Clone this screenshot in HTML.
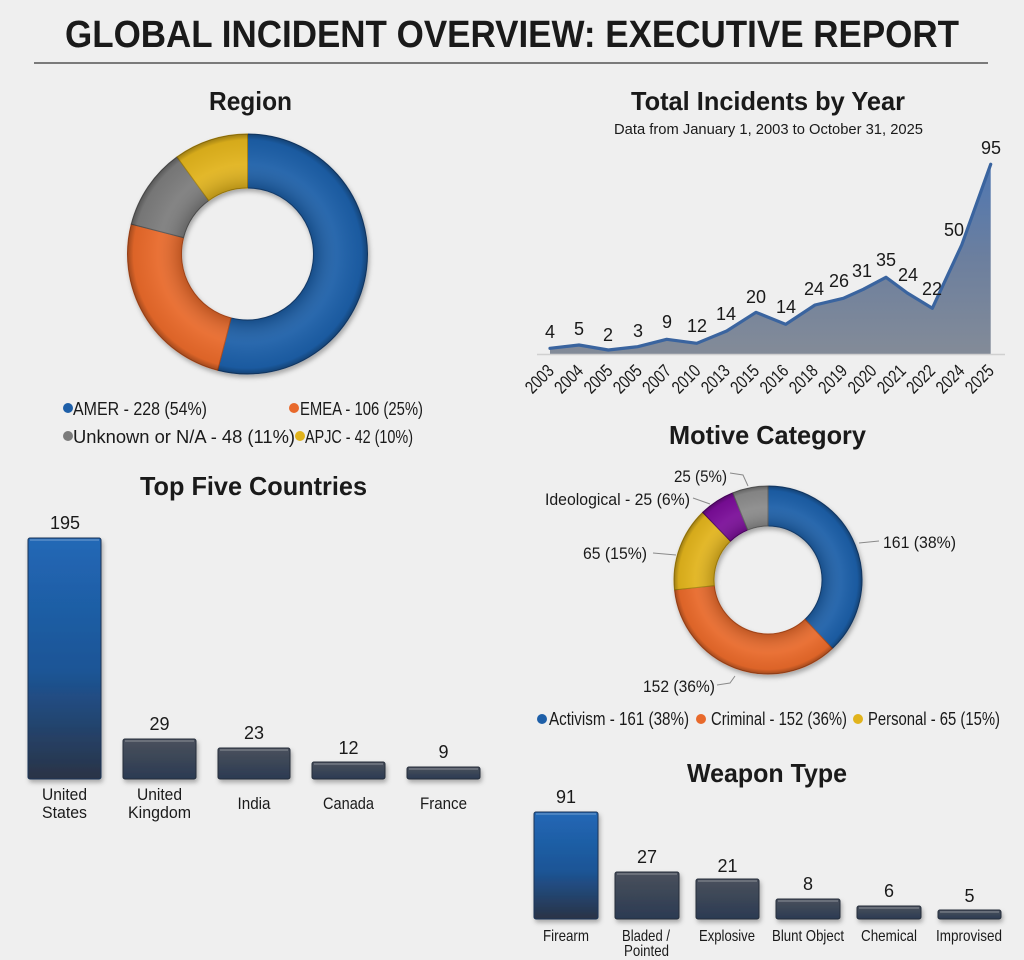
<!DOCTYPE html>
<html>
<head>
<meta charset="utf-8">
<style>
html,body{margin:0;padding:0;background:#efefef;}
svg{display:block;}
text{font-family:"Liberation Sans Narrow","Liberation Sans",sans-serif;fill:#1a1a1a;}
.t{font-weight:bold;}
</style>
</head>
<body>
<svg width="1024" height="960" viewBox="0 0 1024 960" xmlns="http://www.w3.org/2000/svg">
<defs>
  <filter id="sh" x="-20%" y="-20%" width="140%" height="140%">
    <feDropShadow dx="1.5" dy="3" stdDeviation="2.5" flood-color="#000" flood-opacity="0.3"/>
  </filter>
  <linearGradient id="area" x1="0" y1="164" x2="0" y2="354" gradientUnits="userSpaceOnUse">
    <stop offset="0" stop-color="#4f77b2"/>
    <stop offset="0.5" stop-color="#6c7f9e"/>
    <stop offset="1" stop-color="#838b98"/>
  </linearGradient>
  <linearGradient id="blueBar" x1="0" y1="0" x2="0" y2="1">
    <stop offset="0" stop-color="#2168b6"/>
    <stop offset="0.55" stop-color="#1d5596"/>
    <stop offset="1" stop-color="#2a3346"/>
  </linearGradient>
  <linearGradient id="darkBar" x1="0" y1="0" x2="0" y2="1">
    <stop offset="0" stop-color="#4a515c"/>
    <stop offset="1" stop-color="#2b3a52"/>
  </linearGradient>
  <radialGradient id="ringShadeA" cx="247.5" cy="254" r="120" gradientUnits="userSpaceOnUse">
    <stop offset="0.55" stop-color="#000" stop-opacity="0.18"/>
    <stop offset="0.75" stop-color="#fff" stop-opacity="0.06"/>
    <stop offset="0.95" stop-color="#000" stop-opacity="0.05"/>
    <stop offset="1" stop-color="#000" stop-opacity="0.3"/>
  </radialGradient>
  <radialGradient id="ringShadeB" cx="768" cy="580" r="94" gradientUnits="userSpaceOnUse">
    <stop offset="0.57" stop-color="#000" stop-opacity="0.18"/>
    <stop offset="0.78" stop-color="#fff" stop-opacity="0.06"/>
    <stop offset="0.95" stop-color="#000" stop-opacity="0.05"/>
    <stop offset="1" stop-color="#000" stop-opacity="0.3"/>
  </radialGradient>
</defs>

<rect x="0" y="0" width="1024" height="960" fill="#efefef"/>

<!-- Main title -->
<text class="t" x="512" y="47" font-size="38" text-anchor="middle" textLength="894" lengthAdjust="spacingAndGlyphs">GLOBAL INCIDENT OVERVIEW: EXECUTIVE REPORT</text>
<line x1="34" y1="63" x2="988" y2="63" stroke="#7a7a7a" stroke-width="2"/>

<!-- Region -->
<text class="t" x="250.5" y="110" font-size="26" text-anchor="middle" textLength="83" lengthAdjust="spacingAndGlyphs">Region</text>
<g filter="url(#sh)">
  <path d="M247.5,134 A120,120 0 1,1 217.66,370.23 L231.09,317.93 A66,66 0 1,0 247.5,188 Z" fill="#1e5fa8" stroke="#173f70" stroke-width="1"/>
  <path d="M217.66,370.23 A120,120 0 0,1 131.27,224.16 L183.57,237.59 A66,66 0 0,0 231.09,317.93 Z" fill="#e8692b" stroke="#b04c1c" stroke-width="1"/>
  <path d="M131.27,224.16 A120,120 0 0,1 176.97,156.92 L208.71,200.61 A66,66 0 0,0 183.57,237.59 Z" fill="#7b7b7b" stroke="#555" stroke-width="1"/>
  <path d="M176.97,156.92 A120,120 0 0,1 247.5,134 L247.5,188 A66,66 0 0,0 208.71,200.61 Z" fill="#e1b31c" stroke="#a8830f" stroke-width="1"/>
</g>
<path d="M247.5,134 A120,120 0 1,1 247.5,374 A120,120 0 1,1 247.5,134 Z M247.5,188 A66,66 0 1,0 247.5,320 A66,66 0 1,0 247.5,188 Z" fill="url(#ringShadeA)" fill-rule="evenodd"/>

<circle cx="68" cy="408" r="5" fill="#1e5fa8"/>
<text x="73" y="415" font-size="18" textLength="134" lengthAdjust="spacingAndGlyphs">AMER - 228 (54%)</text>
<circle cx="294" cy="408" r="5" fill="#e8692b"/>
<text x="300" y="415" font-size="18" textLength="123" lengthAdjust="spacingAndGlyphs">EMEA - 106 (25%)</text>
<circle cx="68" cy="436" r="5" fill="#7b7b7b"/>
<text x="73" y="443" font-size="18" textLength="222" lengthAdjust="spacingAndGlyphs">Unknown or N/A - 48 (11%)</text>
<circle cx="300" cy="436" r="5" fill="#e1b31c"/>
<text x="305" y="443" font-size="18" textLength="108" lengthAdjust="spacingAndGlyphs">APJC - 42 (10%)</text>

<!-- Total Incidents by Year -->
<text class="t" x="768" y="110" font-size="26" text-anchor="middle" textLength="274" lengthAdjust="spacingAndGlyphs">Total Incidents by Year</text>
<text x="768.5" y="134" font-size="15" text-anchor="middle" textLength="309" lengthAdjust="spacingAndGlyphs">Data from January 1, 2003 to October 31, 2025</text>

<polygon points="550,354 550,348.3 579,345 608.3,350 637.7,346.7 666.7,339.3 696.7,343.3 726.7,331 756,312.3 785.7,324.3 815,305 843.3,298.3 863.3,289.3 886,277.3 907.3,293 932.3,308.3 961.7,245 990.7,164.3 990.7,354" fill="url(#area)"/>
<line x1="537" y1="354.5" x2="1005" y2="354.5" stroke="#d0d0d0" stroke-width="1.5"/>
<polyline points="550,348.3 579,345 608.3,350 637.7,346.7 666.7,339.3 696.7,343.3 726.7,331 756,312.3 785.7,324.3 815,305 843.3,298.3 863.3,289.3 886,277.3 907.3,293 932.3,308.3 961.7,245 990.7,164.3" fill="none" stroke="#3a649f" stroke-width="3.2" stroke-linejoin="round" stroke-linecap="round"/>

<g font-size="18" text-anchor="middle">
  <text x="550" y="338">4</text>
  <text x="579" y="335">5</text>
  <text x="608" y="341">2</text>
  <text x="638" y="337">3</text>
  <text x="667" y="328">9</text>
  <text x="697" y="332">12</text>
  <text x="726" y="320">14</text>
  <text x="756" y="303">20</text>
  <text x="786" y="313">14</text>
  <text x="814" y="295">24</text>
  <text x="839" y="287">26</text>
  <text x="862" y="277">31</text>
  <text x="886" y="266">35</text>
  <text x="908" y="281">24</text>
  <text x="932" y="295">22</text>
  <text x="954" y="236">50</text>
  <text x="991" y="154">95</text>
</g>

<g font-size="18" text-anchor="end">
  <text transform="translate(555,372) rotate(-45)" textLength="32" lengthAdjust="spacingAndGlyphs">2003</text>
  <text transform="translate(584.3,372) rotate(-45)" textLength="32" lengthAdjust="spacingAndGlyphs">2004</text>
  <text transform="translate(613.7,372) rotate(-45)" textLength="32" lengthAdjust="spacingAndGlyphs">2005</text>
  <text transform="translate(643,372) rotate(-45)" textLength="32" lengthAdjust="spacingAndGlyphs">2005</text>
  <text transform="translate(672.3,372) rotate(-45)" textLength="32" lengthAdjust="spacingAndGlyphs">2007</text>
  <text transform="translate(701.7,372) rotate(-45)" textLength="32" lengthAdjust="spacingAndGlyphs">2010</text>
  <text transform="translate(731,372) rotate(-45)" textLength="32" lengthAdjust="spacingAndGlyphs">2013</text>
  <text transform="translate(760.3,372) rotate(-45)" textLength="32" lengthAdjust="spacingAndGlyphs">2015</text>
  <text transform="translate(789.7,372) rotate(-45)" textLength="32" lengthAdjust="spacingAndGlyphs">2016</text>
  <text transform="translate(819,372) rotate(-45)" textLength="32" lengthAdjust="spacingAndGlyphs">2018</text>
  <text transform="translate(848.3,372) rotate(-45)" textLength="32" lengthAdjust="spacingAndGlyphs">2019</text>
  <text transform="translate(877.7,372) rotate(-45)" textLength="32" lengthAdjust="spacingAndGlyphs">2020</text>
  <text transform="translate(907,372) rotate(-45)" textLength="32" lengthAdjust="spacingAndGlyphs">2021</text>
  <text transform="translate(936.3,372) rotate(-45)" textLength="32" lengthAdjust="spacingAndGlyphs">2022</text>
  <text transform="translate(965.7,372) rotate(-45)" textLength="32" lengthAdjust="spacingAndGlyphs">2024</text>
  <text transform="translate(995,372) rotate(-45)" textLength="32" lengthAdjust="spacingAndGlyphs">2025</text>
</g>

<!-- Motive Category -->
<text class="t" x="767.5" y="444" font-size="26" text-anchor="middle" textLength="197" lengthAdjust="spacingAndGlyphs">Motive Category</text>
<g filter="url(#sh)">
  <path d="M768,486 A94,94 0 0,1 832.34,648.53 L804.96,619.37 A54,54 0 0,0 768,526 Z" fill="#1e5fa8" stroke="#173f70" stroke-width="1"/>
  <path d="M832.34,648.53 A94,94 0 0,1 674.52,589.82 L714.30,585.64 A54,54 0 0,0 804.96,619.37 Z" fill="#e8692b" stroke="#b04c1c" stroke-width="1"/>
  <path d="M674.52,589.82 A94,94 0 0,1 702.70,512.39 L730.49,541.16 A54,54 0 0,0 714.30,585.64 Z" fill="#e1b31c" stroke="#a8830f" stroke-width="1"/>
  <path d="M702.70,512.39 A94,94 0 0,1 732.79,492.84 L747.77,529.93 A54,54 0 0,0 730.49,541.16 Z" fill="#7a0e98" stroke="#4f0666" stroke-width="1"/>
  <path d="M732.79,492.84 A94,94 0 0,1 768,486 L768,526 A54,54 0 0,0 747.77,529.93 Z" fill="#8a8a8a" stroke="#606060" stroke-width="1"/>
</g>
<path d="M768,486 A94,94 0 1,1 768,674 A94,94 0 1,1 768,486 Z M768,526 A54,54 0 1,0 768,634 A54,54 0 1,0 768,526 Z" fill="url(#ringShadeB)" fill-rule="evenodd"/>

<g stroke="#8a8a8a" stroke-width="1" fill="none">
  <polyline points="730,473 743,475 748,486"/>
  <polyline points="693,498 710,504"/>
  <polyline points="653,553 676,555"/>
  <polyline points="859,543 879,541"/>
  <polyline points="717,685 730,683 735,676"/>
</g>
<g font-size="17">
  <text x="674" y="482" textLength="53" lengthAdjust="spacingAndGlyphs">25 (5%)</text>
  <text x="545" y="505" textLength="145" lengthAdjust="spacingAndGlyphs">Ideological - 25 (6%)</text>
  <text x="583" y="559" textLength="64" lengthAdjust="spacingAndGlyphs">65 (15%)</text>
  <text x="883" y="548" textLength="73" lengthAdjust="spacingAndGlyphs">161 (38%)</text>
  <text x="643" y="692" textLength="72" lengthAdjust="spacingAndGlyphs">152 (36%)</text>
</g>

<circle cx="542" cy="719" r="5" fill="#1e5fa8"/>
<text x="549" y="725" font-size="18" textLength="140" lengthAdjust="spacingAndGlyphs">Activism - 161 (38%)</text>
<circle cx="701" cy="719" r="5" fill="#e8692b"/>
<text x="711" y="725" font-size="18" textLength="136" lengthAdjust="spacingAndGlyphs">Criminal - 152 (36%)</text>
<circle cx="858" cy="719" r="5" fill="#e1b31c"/>
<text x="868" y="725" font-size="18" textLength="132" lengthAdjust="spacingAndGlyphs">Personal - 65 (15%)</text>

<!-- Top Five Countries -->
<text class="t" x="253.5" y="495" font-size="26" text-anchor="middle" textLength="227" lengthAdjust="spacingAndGlyphs">Top Five Countries</text>
<g filter="url(#sh)">
  <rect x="28" y="538" width="73" height="241" rx="2" fill="url(#blueBar)" stroke="#1a3558" stroke-width="1"/>
  <rect x="123" y="739" width="73" height="40" rx="2" fill="url(#darkBar)" stroke="#252d3a" stroke-width="1"/>
  <rect x="218" y="748" width="72" height="31" rx="2" fill="url(#darkBar)" stroke="#252d3a" stroke-width="1"/>
  <rect x="312" y="762" width="73" height="17" rx="2" fill="url(#darkBar)" stroke="#252d3a" stroke-width="1"/>
  <rect x="407" y="767" width="73" height="12" rx="2" fill="url(#darkBar)" stroke="#252d3a" stroke-width="1"/>
</g>
<g stroke="#ffffff" stroke-opacity="0.3" stroke-width="1.2">
  <line x1="30" y1="540" x2="99" y2="540"/>
  <line x1="125" y1="741" x2="194" y2="741"/>
  <line x1="220" y1="750" x2="288" y2="750"/>
  <line x1="314" y1="764" x2="383" y2="764"/>
  <line x1="409" y1="769" x2="478" y2="769"/>
</g>
<g font-size="18" text-anchor="middle">
  <text x="65" y="529">195</text>
  <text x="159.5" y="730">29</text>
  <text x="254" y="739">23</text>
  <text x="348.5" y="754">12</text>
  <text x="443.5" y="758">9</text>
</g>
<g font-size="17" text-anchor="middle">
  <text x="64.5" y="800" textLength="45" lengthAdjust="spacingAndGlyphs">United</text>
  <text x="64.5" y="818" textLength="45" lengthAdjust="spacingAndGlyphs">States</text>
  <text x="159.5" y="800" textLength="45" lengthAdjust="spacingAndGlyphs">United</text>
  <text x="159.5" y="818" textLength="63" lengthAdjust="spacingAndGlyphs">Kingdom</text>
  <text x="254" y="809" textLength="33" lengthAdjust="spacingAndGlyphs">India</text>
  <text x="348.5" y="809" textLength="51" lengthAdjust="spacingAndGlyphs">Canada</text>
  <text x="443.5" y="809" textLength="47" lengthAdjust="spacingAndGlyphs">France</text>
</g>

<!-- Weapon Type -->
<text class="t" x="767" y="782" font-size="26" text-anchor="middle" textLength="160" lengthAdjust="spacingAndGlyphs">Weapon Type</text>
<g filter="url(#sh)">
  <rect x="534" y="812" width="64" height="107" rx="2" fill="url(#blueBar)" stroke="#1a3558" stroke-width="1"/>
  <rect x="615" y="872" width="64" height="47" rx="2" fill="url(#darkBar)" stroke="#252d3a" stroke-width="1"/>
  <rect x="696" y="879" width="63" height="40" rx="2" fill="url(#darkBar)" stroke="#252d3a" stroke-width="1"/>
  <rect x="776" y="899" width="64" height="20" rx="2" fill="url(#darkBar)" stroke="#252d3a" stroke-width="1"/>
  <rect x="857" y="906" width="64" height="13" rx="2" fill="url(#darkBar)" stroke="#252d3a" stroke-width="1"/>
  <rect x="938" y="910" width="63" height="9" rx="2" fill="url(#darkBar)" stroke="#252d3a" stroke-width="1"/>
</g>
<g stroke="#ffffff" stroke-opacity="0.3" stroke-width="1.2">
  <line x1="536" y1="814" x2="596" y2="814"/>
  <line x1="617" y1="874" x2="677" y2="874"/>
  <line x1="698" y1="881" x2="757" y2="881"/>
  <line x1="778" y1="901" x2="838" y2="901"/>
  <line x1="859" y1="908" x2="919" y2="908"/>
  <line x1="940" y1="912" x2="999" y2="912"/>
</g>
<g font-size="18" text-anchor="middle">
  <text x="566" y="803">91</text>
  <text x="647" y="863">27</text>
  <text x="727.5" y="872">21</text>
  <text x="808" y="890">8</text>
  <text x="889" y="897">6</text>
  <text x="969.5" y="902">5</text>
</g>
<g font-size="16" text-anchor="middle">
  <text x="566" y="941" textLength="46" lengthAdjust="spacingAndGlyphs">Firearm</text>
  <text x="646" y="941" textLength="48" lengthAdjust="spacingAndGlyphs">Bladed /</text>
  <text x="646.5" y="956" textLength="45" lengthAdjust="spacingAndGlyphs">Pointed</text>
  <text x="727" y="941" textLength="56" lengthAdjust="spacingAndGlyphs">Explosive</text>
  <text x="808" y="941" textLength="72" lengthAdjust="spacingAndGlyphs">Blunt Object</text>
  <text x="889" y="941" textLength="56" lengthAdjust="spacingAndGlyphs">Chemical</text>
  <text x="969" y="941" textLength="66" lengthAdjust="spacingAndGlyphs">Improvised</text>
</g>
</svg>
</body>
</html>
